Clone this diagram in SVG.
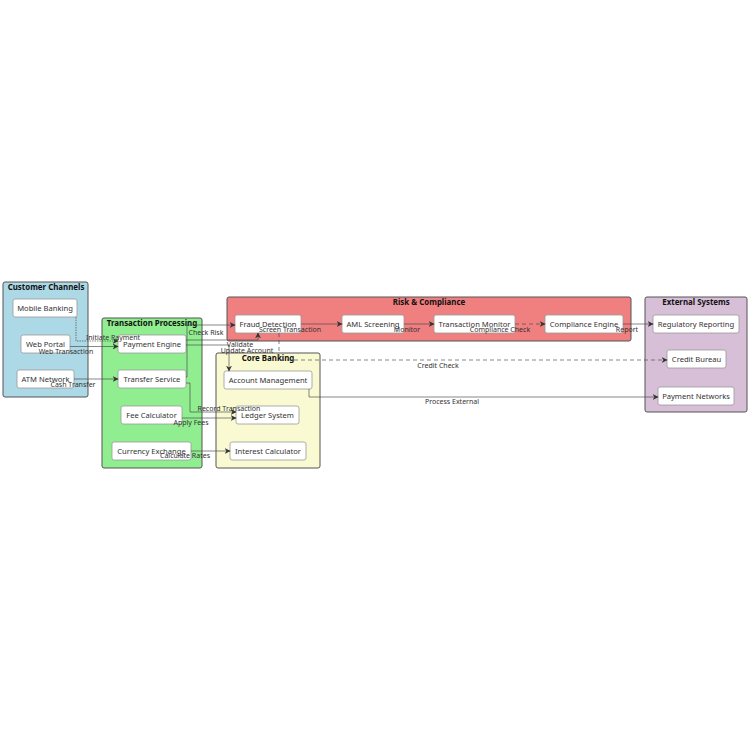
<svg xmlns="http://www.w3.org/2000/svg" width="750" height="750" viewBox="0 0 750 750">
<defs>
<marker id="arr" viewBox="0 0 10 10" refX="9" refY="5" markerWidth="6" markerHeight="6" orient="auto" markerUnits="userSpaceOnUse">
<path d="M0,0 L10,5 L0,10 L3,5 Z" fill="#333"/>
</marker>
</defs>
<style>
text{font-family:"Noto Sans","DejaVu Sans",sans-serif;}
.grp{stroke:#555;stroke-width:1;}
.gt{font-size:7.9px;font-weight:bold;fill:#111;text-anchor:middle;}
.nd{fill:#fff;stroke:#999;stroke-width:0.8;}
.nt{font-size:7.6px;fill:#333;text-anchor:middle;}
.e{fill:none;stroke:#444;stroke-width:0.8;stroke-opacity:0.8;marker-end:url(#arr);}
.d{stroke-dasharray:4 3;}
.el{font-size:7px;fill:#333;text-anchor:middle;}
</style>
<rect width="750" height="750" fill="#fff"/>

<g id="customer-channels">
<rect class="grp" x="3" y="282" width="85" height="115" rx="2" fill="#ADD8E6"/>
<text class="gt" x="46" y="289.5">Customer Channels</text>
</g>
<g id="transaction-processing">
<rect class="grp" x="102" y="318" width="100" height="150" rx="2" fill="#90EE90"/>
<text class="gt" x="152" y="325.5">Transaction Processing</text>
</g>
<g id="risk-compliance">
<rect class="grp" x="227" y="297" width="404" height="44" rx="2" fill="#F08080"/>
<text class="gt" x="429" y="305">Risk &amp; Compliance</text>
</g>
<g id="core-banking">
<rect class="grp" x="216" y="353" width="104" height="115" rx="2" fill="#FAFAD2"/>
<text class="gt" x="268" y="361">Core Banking</text>
</g>
<g id="external-systems">
<rect class="grp" x="645" y="297" width="102" height="115" rx="2" fill="#D8BFD8"/>
<text class="gt" x="696" y="305">External Systems</text>
</g>

<g id="mobile-banking"><rect class="nd" x="13" y="299" width="64" height="18" rx="2"/><text class="nt" x="45" y="310.7">Mobile Banking</text></g>
<g id="web-portal"><rect class="nd" x="21" y="335" width="49" height="18" rx="2"/><text class="nt" x="45.5" y="346.7">Web Portal</text></g>
<g id="atm-network"><rect class="nd" x="17" y="370" width="57" height="18" rx="2"/><text class="nt" x="45.5" y="381.7">ATM Network</text></g>

<g id="payment-engine"><rect class="nd" x="118" y="335" width="68" height="18" rx="2"/><text class="nt" x="152" y="346.7">Payment Engine</text></g>
<g id="transfer-service"><rect class="nd" x="118" y="370" width="68" height="18" rx="2"/><text class="nt" x="152" y="381.7">Transfer Service</text></g>
<g id="fee-calculator"><rect class="nd" x="121" y="406" width="61" height="18" rx="2"/><text class="nt" x="151.5" y="417.7">Fee Calculator</text></g>
<g id="currency-exchange"><rect class="nd" x="112" y="442" width="79" height="18" rx="2"/><text class="nt" x="151.5" y="453.7">Currency Exchange</text></g>

<g id="fraud-detection"><rect class="nd" x="235" y="315" width="66" height="18" rx="2"/><text class="nt" x="268" y="326.7">Fraud Detection</text></g>
<g id="aml-screening"><rect class="nd" x="342" y="315" width="62" height="18" rx="2"/><text class="nt" x="373" y="326.7">AML Screening</text></g>
<g id="transaction-monitor"><rect class="nd" x="434" y="315" width="81" height="18" rx="2"/><text class="nt" x="474.5" y="326.7">Transaction Monitor</text></g>
<g id="compliance-engine"><rect class="nd" x="545" y="315" width="78" height="18" rx="2"/><text class="nt" x="584" y="326.7">Compliance Engine</text></g>

<g id="account-management"><rect class="nd" x="224" y="371" width="88" height="18" rx="2"/><text class="nt" x="268" y="382.7">Account Management</text></g>
<g id="ledger-system"><rect class="nd" x="236" y="406" width="63" height="18" rx="2"/><text class="nt" x="267.5" y="417.7">Ledger System</text></g>
<g id="interest-calculator"><rect class="nd" x="230" y="442" width="76" height="18" rx="2"/><text class="nt" x="268" y="453.7">Interest Calculator</text></g>

<g id="regulatory-reporting"><rect class="nd" x="653" y="315" width="86" height="18" rx="2"/><text class="nt" x="696" y="326.7">Regulatory Reporting</text></g>
<g id="credit-bureau"><rect class="nd" x="667" y="350" width="59" height="18" rx="2"/><text class="nt" x="696.5" y="361.7">Credit Bureau</text></g>
<g id="payment-networks"><rect class="nd" x="658" y="387" width="76" height="18" rx="2"/><text class="nt" x="696" y="398.7">Payment Networks</text></g>

<g id="connectors">
<path class="e" d="M76,317 V341 H118" stroke-dasharray="1.5 1"/>
<path class="e" d="M70,346.5 H118"/>
<path class="e" d="M74,379 H118"/>
<path class="e" d="M186,377 H187 V325 H235"/>
<path class="e" d="M186,340 H258 V333"/>
<path class="e" d="M186,345 H229 V371"/>
<path class="e" d="M186,383 H190 V412 H236"/>
<path class="e" d="M182,418 H236"/>
<path class="e" d="M191,451 H230"/>
<path class="e" d="M301,324 H342"/>
<path class="e" d="M404,324 H434"/>
<path class="e d" d="M515,324 H545"/>
<path class="e" d="M623,324 H653"/>
<path class="e d" d="M279,333 V360 H667"/>
<path class="e" d="M309,389 V397 H658"/>
<text class="el" x="113" y="339.5">Initiate Payment</text>
<text class="el" x="66" y="354">Web Transaction</text>
<text class="el" x="73" y="387">Cash Transfer</text>
<text class="el" x="206" y="334.5">Check Risk</text>
<text class="el" x="290" y="331.5">Screen Transaction</text>
<text class="el" x="240" y="346.5">Validate</text>
<text class="el" x="247" y="352.5">Update Account</text>
<text class="el" x="407" y="331.5">Monitor</text>
<text class="el" x="500" y="331.5">Compliance Check</text>
<text class="el" x="627" y="331.5">Report</text>
<text class="el" x="438" y="368">Credit Check</text>
<text class="el" x="229" y="410.5">Record Transaction</text>
<text class="el" x="191" y="424.5">Apply Fees</text>
<text class="el" x="185" y="458">Calculate Rates</text>
<text class="el" x="452" y="404">Process External</text>
</g>
</svg>
